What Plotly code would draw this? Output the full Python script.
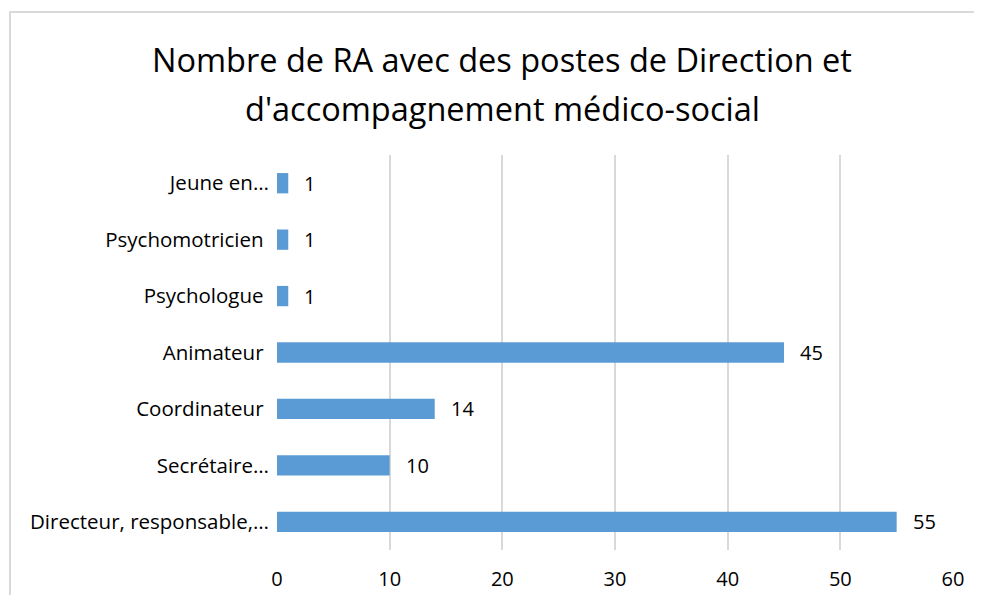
import plotly.graph_objects as go

categories = ["Directeur, responsable,…", "Secrétaire…", "Coordinateur\u00a0", "Animateur\u00a0",
              "Psychologue\u00a0", "Psychomotricien\u00a0", "Jeune en…"]
values = [55, 10, 14, 45, 1, 1, 1]
tick_vals = [0, 10, 20, 30, 40, 50, 60]
title_lines = ["Nombre de RA avec des postes de Direction et", "d'accompagnement médico-social"]

FONT = "Open Sans"
OFF = 8  # page body margin of the html page
W, H = 982 - 2 * OFF, 603 - 2 * OFF
L, T = 277 - OFF, 155 - OFF
pw, ph = 676, 395
R, B = W - L - pw, H - T - ph

def px_to_paper_x(px):
    return (px - OFF - L) / pw

def py_to_paper_y(py):
    return (T + ph - (py - OFF)) / ph

fig = go.Figure()
fig.add_trace(go.Bar(
    y=categories, x=values, orientation="h",
    marker=dict(color="#5b9bd5", line=dict(width=0)),
    width=0.36, hoverinfo="x+y",
))

annotations = []
for c, v in zip(categories, values):
    annotations.append(dict(x=v, y=c, xref="x", yref="y", text=str(v), showarrow=False,
                            xanchor="left", xshift=14, font=dict(family=FONT, size=20, color="#000000")))
annotations.append(dict(x=px_to_paper_x(502), y=py_to_paper_y(59), xref="paper", yref="paper",
                        text=title_lines[0], showarrow=False, xanchor="center", yanchor="middle",
                        font=dict(family=FONT, size=32.5, color="#000000")))
annotations.append(dict(x=px_to_paper_x(502), y=py_to_paper_y(108), xref="paper", yref="paper",
                        text=title_lines[1], showarrow=False, xanchor="center", yanchor="middle",
                        font=dict(family=FONT, size=32.5, color="#000000")))

border = dict(color="#d9d9d9", width=2)
fig.update_layout(
    width=W, height=H,
    margin=dict(l=L, r=R, t=T, b=B, pad=0, autoexpand=False),
    paper_bgcolor="white", plot_bgcolor="white",
    showlegend=False,
    annotations=annotations,
    shapes=[
        dict(type="line", xref="paper", yref="paper",
             x0=px_to_paper_x(9), x1=px_to_paper_x(1010),
             y0=py_to_paper_y(12), y1=py_to_paper_y(12), line=border, layer="below"),
        dict(type="line", xref="paper", yref="paper",
             x0=px_to_paper_x(10), x1=px_to_paper_x(10),
             y0=py_to_paper_y(11), y1=py_to_paper_y(640), line=border, layer="below"),
    ],
    xaxis=dict(range=[0, 60], tickvals=tick_vals, showgrid=True, gridcolor="#d9d9d9", gridwidth=1.5,
               zeroline=False, showline=False, ticks="outside", ticklen=11, tickcolor="rgba(0,0,0,0)",
               automargin=False,
               tickfont=dict(family=FONT, size=20, color="#000000"), fixedrange=True),
    yaxis=dict(showgrid=False, zeroline=False, showline=False, ticks="outside", ticklen=3,
               tickcolor="rgba(0,0,0,0)", categoryorder="array", categoryarray=categories,
               automargin=False,
               tickfont=dict(family=FONT, size=20.5, color="#000000"), fixedrange=True),
    bargap=0.64,
)
fig.write_html("out.html")
